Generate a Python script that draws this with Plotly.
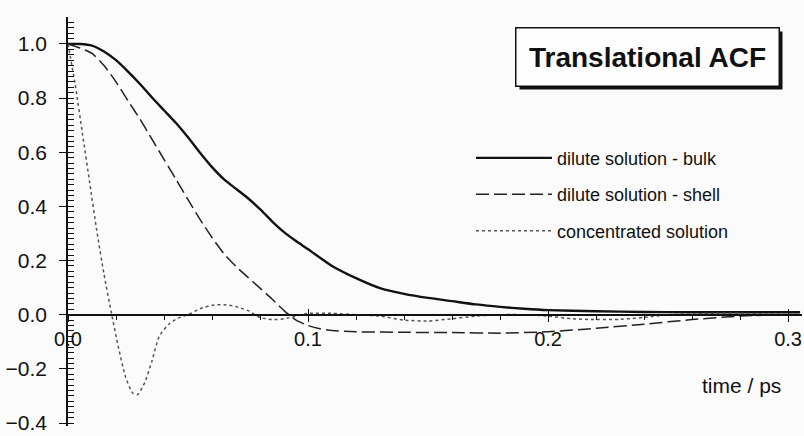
import plotly.graph_objects as go

# ---- data ----
t_bulk = [0, 0.005, 0.01, 0.015, 0.02, 0.025, 0.03, 0.035, 0.04, 0.045, 0.05, 0.055, 0.06, 0.065,
          0.07, 0.075, 0.08, 0.085, 0.09, 0.095, 0.1, 0.11, 0.12, 0.13, 0.14, 0.15, 0.16, 0.17,
          0.18, 0.19, 0.2, 0.22, 0.24, 0.26, 0.28, 0.3, 0.305]
v_bulk = [1.0, 1.0, 0.994, 0.972, 0.94, 0.898, 0.852, 0.802, 0.755, 0.708, 0.655, 0.598, 0.545, 0.50,
          0.465, 0.43, 0.39, 0.345, 0.305, 0.272, 0.242, 0.18, 0.135, 0.098, 0.077, 0.062, 0.05, 0.038,
          0.029, 0.022, 0.017, 0.013, 0.01, 0.009, 0.009, 0.009, 0.009]

t_shell = [0, 0.005, 0.01, 0.015, 0.02, 0.025, 0.03, 0.035, 0.04, 0.045, 0.05, 0.055, 0.06, 0.065,
           0.07, 0.075, 0.08, 0.085, 0.09, 0.095, 0.1, 0.105, 0.11, 0.12, 0.14, 0.16, 0.18, 0.2,
           0.22, 0.24, 0.26, 0.28, 0.3, 0.305]
v_shell = [1.0, 0.985, 0.965, 0.92, 0.86, 0.79, 0.722, 0.648, 0.574, 0.50, 0.425, 0.352, 0.285, 0.225,
           0.178, 0.138, 0.098, 0.058, 0.015, -0.02, -0.04, -0.052, -0.058, -0.063, -0.065, -0.066,
           -0.068, -0.063, -0.05, -0.035, -0.018, -0.005, 0.0, 0.0]

t_conc = [0, 0.003, 0.006, 0.009, 0.012, 0.015, 0.018, 0.021, 0.024, 0.027, 0.029, 0.032, 0.035,
          0.038, 0.042, 0.046, 0.05, 0.055, 0.06, 0.065, 0.07, 0.075, 0.08, 0.085, 0.09, 0.095,
          0.1, 0.11, 0.12, 0.13, 0.14, 0.15, 0.16, 0.17, 0.18, 0.19, 0.2, 0.21, 0.22, 0.23, 0.24,
          0.25, 0.26, 0.27, 0.28, 0.29, 0.3, 0.305]
v_conc = [1.0, 0.85, 0.67, 0.49, 0.31, 0.15, 0.01, -0.12, -0.23, -0.29, -0.295, -0.25, -0.17,
          -0.08, -0.035, -0.012, 0.0, 0.022, 0.035, 0.037, 0.03, 0.015, -0.01, -0.018, -0.015, -0.005,
          0.005, 0.005, 0.0, -0.005, -0.02, -0.023, -0.015, -0.005, 0.0, 0.0, -0.005, -0.015, -0.018,
          -0.017, -0.01, 0.0, 0.003, 0.005, 0.005, 0.003, 0.002, 0.002]

names = ["dilute solution - bulk", "dilute solution - shell", "concentrated solution"]
title_text = "Translational ACF"
x_title = "time / ps"
x_ticks = [0.0, 0.1, 0.2, 0.3]
y_ticks = [-0.4, -0.2, 0.0, 0.2, 0.4, 0.6, 0.8, 1.0]

x_range = [0, 0.3058]
y_range = [-0.411, 1.0995]
zero_pos = (0 - y_range[0]) / (y_range[1] - y_range[0])

FONT = "Liberation Sans, Arial, sans-serif"

fig = go.Figure()
fig.add_trace(go.Scatter(x=t_bulk, y=v_bulk, mode="lines", name=names[0], legendgroup="a",
                         line=dict(color="#111111", width=2.4, shape="spline", smoothing=0.6)))
fig.add_trace(go.Scatter(x=t_shell, y=v_shell, mode="lines", name=names[1], legendgroup="b",
                         line=dict(color="#222222", width=1.5, dash="13px,5px", shape="spline", smoothing=0.6)))
fig.add_trace(go.Scatter(x=t_conc, y=v_conc, mode="lines", name=names[2], legendgroup="c",
                         line=dict(color="#555555", width=1.5, dash="dot", shape="spline", smoothing=0.6)))

# invisible helper trace for overlay axes (crossing ticks)
fig.add_trace(go.Scatter(x=[x_range[0]], y=[y_range[0]], xaxis="x2", yaxis="y2", mode="markers",
                         marker=dict(opacity=0), showlegend=False, hoverinfo="skip"))

fig.update_layout(
    width=804, height=436,
    margin=dict(l=68, r=2, t=17, b=8),
    paper_bgcolor="#fbfbfb", plot_bgcolor="#fbfbfb",
    font=dict(family=FONT, color="#111111"),
    showlegend=True,
    legend=dict(x=0.549, y=0.70, xanchor="left", yanchor="top", bgcolor="rgba(0,0,0,0)",
                font=dict(size=18, family=FONT), itemwidth=76, tracegroupgap=10,
                traceorder="grouped"),
    xaxis=dict(range=x_range, anchor="free", position=zero_pos, showgrid=False, zeroline=False,
               showline=True, linecolor="#111111", linewidth=1.8,
               tickmode="array", tickvals=x_ticks, tickformat=".1f",
               ticks="outside", ticklen=6, tickwidth=1.3, tickcolor="#111111",
               tickfont=dict(size=20, family=FONT), ticklabeloverflow="allow",
               minor=dict(dtick=0.02, tick0=0, ticks="outside", ticklen=4, tickwidth=1, tickcolor="#111111")),
    yaxis=dict(range=y_range, showgrid=False, zeroline=False, showline=True, linecolor="#111111",
               linewidth=1.5, tickmode="array", tickvals=y_ticks, tickformat=".1f",
               ticks="outside", ticklen=7, tickwidth=1.3, tickcolor="#111111",
               ticklabelstandoff=8, ticklabeloverflow="allow",
               tickfont=dict(size=21, family=FONT),
               minor=dict(dtick=0.02, tick0=0, ticks="inside", ticklen=6, tickwidth=1.2, tickcolor="#111111")),
    xaxis2=dict(range=x_range, overlaying="x", anchor="free", position=zero_pos, showgrid=False,
                zeroline=False, showline=False, tickmode="array", tickvals=x_ticks,
                ticks="inside", ticklen=6, tickwidth=1.3, tickcolor="#111111", showticklabels=False),
    yaxis2=dict(range=y_range, overlaying="y", anchor="x2", side="left", showgrid=False,
                zeroline=False, showline=False, tickmode="array", tickvals=y_ticks,
                ticks="inside", ticklen=6, tickwidth=1.3, tickcolor="#111111", showticklabels=False),
)

# x-axis title text
fig.add_annotation(text=x_title, xref="paper", yref="paper", x=0.974, y=0.0998,
                   xanchor="right", yanchor="middle", showarrow=False,
                   font=dict(size=21, family=FONT, color="#111111"))

# title box with shadow
box_x = 0.790
box_y = 0.9015
fig.add_annotation(text=" ", xref="paper", yref="paper", x=box_x, y=box_y, xshift=3, yshift=-3,
                   xanchor="center", yanchor="middle",
                   showarrow=False, width=262, height=57, bgcolor="#111111", borderpad=0)
fig.add_annotation(text="<b>" + title_text + "</b>", xref="paper", yref="paper", x=box_x, y=box_y,
                   xanchor="center", yanchor="middle",
                   showarrow=False, width=262, height=57, bgcolor="#fdfdfd", bordercolor="#111111",
                   borderwidth=1.5, borderpad=0,
                   font=dict(size=28, family=FONT, color="#111111"))

fig.write_html("out.html")
